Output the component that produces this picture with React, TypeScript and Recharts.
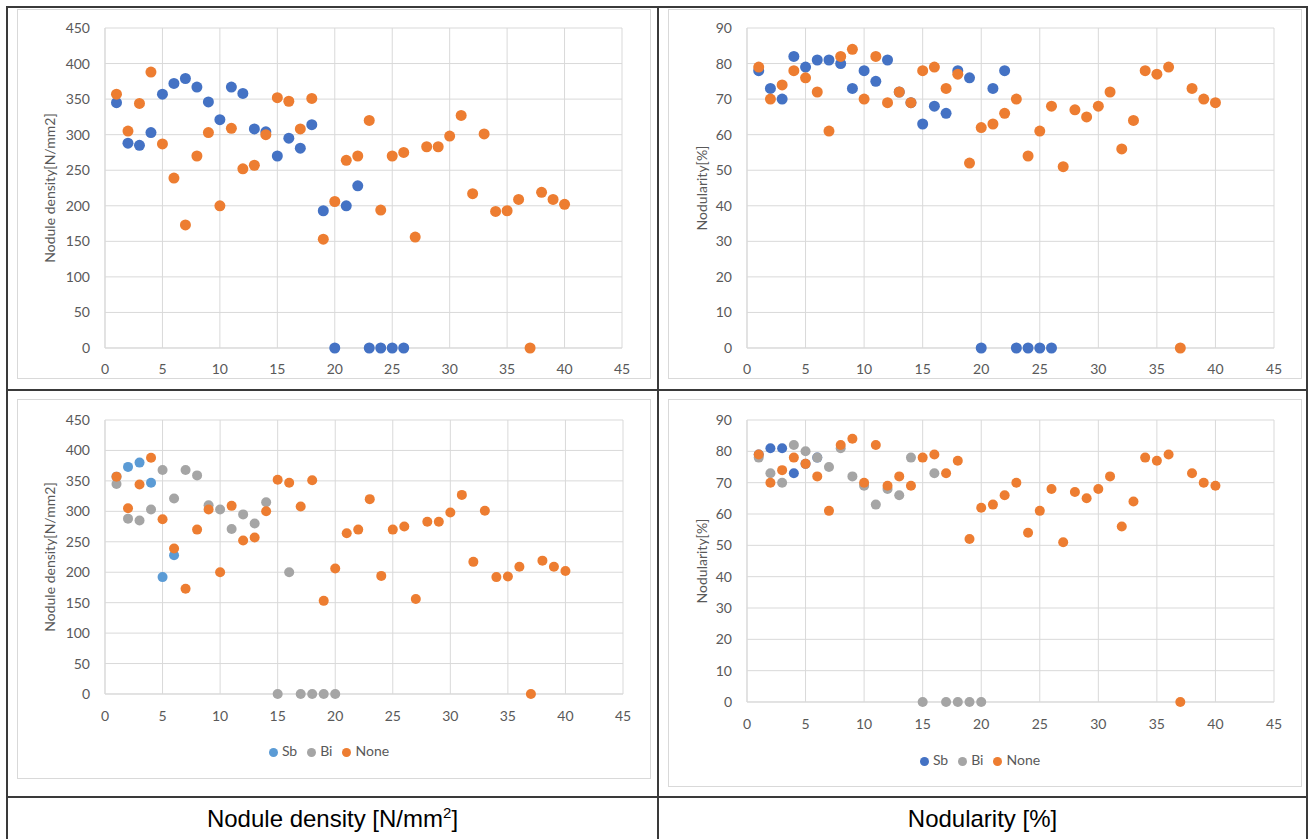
import { ScatterChart, Scatter, XAxis, YAxis, CartesianGrid, Legend } from 'recharts';

// sample numbers run 1..n along x
const xTicks = [0, 5, 10, 15, 20, 25, 30, 35, 40, 45];
const densityTicks = [0, 50, 100, 150, 200, 250, 300, 350, 400, 450];
const nodularityTicks = [0, 10, 20, 30, 40, 50, 60, 70, 80, 90];

const noneDensity = [357, 305, 344, 388, 287, 239, 173, 270, 303, 200, 309, 252, 257, 300, 352, 347, 308, 351, 153, 206, 264, 270, 320, 194, 270, 275, 156, 283, 283, 298, 327, 217, 301, 192, 193, 209, 0, 219, 209, 202];
const noneNodularity = [79, 70, 74, 78, 76, 72, 61, 82, 84, 70, 82, 69, 72, 69, 78, 79, 73, 77, 52, 62, 63, 66, 70, 54, 61, 68, 51, 67, 65, 68, 72, 56, 64, 78, 77, 79, 0, 73, 70, 69];

const alloyDensity = [345, 288, 285, 303, 357, 372, 379, 367, 346, 321, 367, 358, 308, 304, 270, 295, 281, 314, 193, 0, 200, 228, 0, 0, 0, 0];
const alloyNodularity = [78, 73, 70, 82, 79, 81, 81, 80, 73, 78, 75, 81, 72, 69, 63, 68, 66, 78, 76, 0, 73, 78, 0, 0, 0, 0];

const sbDensity = [357, 373, 380, 347, 192, 228];
const sbNodularity = [79, 81, 81, 73, 76, 78];
const biDensity = [345, 288, 285, 303, 368, 321, 368, 359, 310, 303, 271, 295, 280, 315, 0, 200, 0, 0, 0, 0];
const biNodularity = [78, 73, 70, 82, 80, 78, 75, 81, 72, 69, 63, 68, 66, 78, 0, 73, 0, 0, 0, 0];

const legendOrder = ['Sb', 'Bi', 'None'];

const BLUE = '#4472C4';
const LIGHT_BLUE = '#5B9BD5';
const GREY = '#A5A5A5';
const ORANGE = '#ED7D31';
const GRID = '#D9D9D9';
const TEXT = '#595959';
const FONT = 'Lato, "Open Sans", sans-serif';

type Series = { name: string; color: string; values: number[] };

const toPoints = (values: number[]) => values.map((y, i) => ({ x: i + 1, y }));

const dot = (color: string, r: number) => (p: any) =>
  p.cx == null ? <g /> : <circle cx={p.cx} cy={p.cy} r={r} fill={color} />;

type PanelProps = {
  left: number;
  top: number;
  width: number;
  height: number;
  margin: { top: number; right: number; bottom: number; left: number };
  yAxisWidth: number;
  xAxisHeight: number;
  xTickMargin: number;
  yTitle: string;
  yTicks: number[];
  series: Series[];
  legendBottom?: number;
  r: number;
};

function Panel(props: PanelProps) {
  const { left, top, width, height, margin, yAxisWidth, xAxisHeight, xTickMargin, yTitle, yTicks, series, legendBottom, r } = props;
  return (
    <div style={{ position: 'absolute', left, top, width, height }}>
      <div style={{ position: 'absolute', inset: 0, border: `1px solid ${GRID}`, boxSizing: 'border-box' }} />
      <ScatterChart width={width} height={height} margin={margin} style={{ position: 'absolute', left: 0, top: 0 }}>
        <CartesianGrid stroke={GRID} />
        <XAxis
          type="number"
          dataKey="x"
          domain={[0, 45]}
          ticks={xTicks}
          interval={0}
          height={xAxisHeight}
          axisLine={{ stroke: GRID }}
          tickLine={false}
          tickMargin={xTickMargin}
          tick={{ fill: TEXT, fontSize: 14, fontFamily: FONT }}
        />
        <YAxis
          type="number"
          dataKey="y"
          domain={[yTicks[0], yTicks[yTicks.length - 1]]}
          ticks={yTicks}
          interval={0}
          width={yAxisWidth}
          axisLine={{ stroke: GRID }}
          tickLine={false}
          tickMargin={9}
          tick={{ fill: TEXT, fontSize: 14, fontFamily: FONT }}
          label={{
            value: yTitle,
            angle: -90,
            position: 'insideLeft',
            offset: 25,
            style: { textAnchor: 'middle', fill: TEXT, fontSize: 14, fontFamily: FONT },
          }}
        />
        {legendBottom != null && (
          <Legend
            verticalAlign="bottom"
            align="center"
            iconType="circle"
            iconSize={9}
            itemSorter={(item: any) => legendOrder.indexOf(item.value)}
            wrapperStyle={{ left: 0, width, bottom: legendBottom, height: 24, lineHeight: '24px', fontFamily: FONT, fontSize: 14 }}
            formatter={(v: string) => <span style={{ color: TEXT }}>{v}</span>}
          />
        )}
        {series.map((s) => (
          <Scatter
            key={s.name}
            name={s.name}
            data={toPoints(s.values)}
            fill={s.color}
            shape={dot(s.color, r)}
            isAnimationActive={false}
          />
        ))}
      </ScatterChart>
    </div>
  );
}

const line = (left: number, top: number, width: number, height: number) => (
  <div style={{ position: 'absolute', left, top, width, height, background: '#3a3a3a' }} />
);

const captionStyle = {
  position: 'absolute' as const,
  top: 803,
  textAlign: 'center' as const,
  fontFamily: '"Liberation Sans", Arial, sans-serif',
  fontSize: 24,
  lineHeight: '32px',
  color: '#000',
};

export default function App() {
  return (
    <div style={{ position: 'absolute', left: 0, top: 0, width: 1310, height: 839, overflow: 'hidden', background: '#fff' }}>
      <Panel
        left={17}
        top={9}
        width={634}
        height={370}
        margin={{ top: 19, right: 29, bottom: 0, left: 8 }}
        yAxisWidth={80}
        xAxisHeight={31}
        xTickMargin={10}
        yTitle="Nodule density[N/mm2]"
        yTicks={densityTicks}
        r={5.5}
        series={[
          { name: 'Alloyed', color: BLUE, values: alloyDensity },
          { name: 'None', color: ORANGE, values: noneDensity },
        ]}
      />
      <Panel
        left={668}
        top={9}
        width={634}
        height={370}
        margin={{ top: 19, right: 28, bottom: 0, left: 9 }}
        yAxisWidth={70}
        xAxisHeight={31}
        xTickMargin={10}
        yTitle="Nodularity[%]"
        yTicks={nodularityTicks}
        r={5.5}
        series={[
          { name: 'Alloyed', color: BLUE, values: alloyNodularity },
          { name: 'None', color: ORANGE, values: noneNodularity },
        ]}
      />
      <Panel
        left={17}
        top={399}
        width={634}
        height={380}
        margin={{ top: 21, right: 28, bottom: 0, left: 8 }}
        yAxisWidth={80}
        xAxisHeight={61}
        xTickMargin={11}
        yTitle="Nodule density[N/mm2]"
        yTicks={densityTicks}
        r={5}
        legendBottom={16}
        series={[
          { name: 'Sb', color: LIGHT_BLUE, values: sbDensity },
          { name: 'Bi', color: GREY, values: biDensity },
          { name: 'None', color: ORANGE, values: noneDensity },
        ]}
      />
      <Panel
        left={668}
        top={399}
        width={634}
        height={388}
        margin={{ top: 21, right: 28, bottom: 0, left: 9 }}
        yAxisWidth={70}
        xAxisHeight={61}
        xTickMargin={11}
        yTitle="Nodularity[%]"
        yTicks={nodularityTicks}
        r={5}
        legendBottom={15}
        series={[
          { name: 'Sb', color: BLUE, values: sbNodularity },
          { name: 'Bi', color: GREY, values: biNodularity },
          { name: 'None', color: ORANGE, values: noneNodularity },
        ]}
      />

      {/* table rules */}
      {line(6, 6, 1302, 2)}
      {line(6, 6, 2, 900)}
      {line(1306, 6, 2, 900)}
      {line(657, 6, 2, 900)}
      {line(6, 389, 1302, 2)}
      {line(6, 796, 1302, 2)}

      <div style={{ ...captionStyle, left: 8, width: 649 }}>
        Nodule density [N/mm<sup style={{ fontSize: 15, verticalAlign: 'super', lineHeight: 0 }}>2</sup>]
      </div>
      <div style={{ ...captionStyle, left: 659, width: 647 }}>Nodularity [%]</div>
    </div>
  );
}
